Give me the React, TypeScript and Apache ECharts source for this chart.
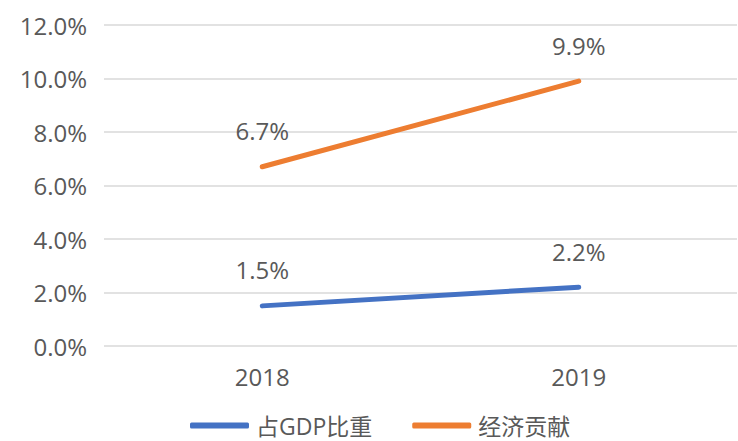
import React, { useEffect, useRef } from "react";
import * as echarts from "echarts";

const categories = ["2018", "2019"];
const gdpShare = [1.5, 2.2];
const contribution = [6.7, 9.9];
const seriesNames = ["占GDP比重", "经济贡献"];

const FONT = "'Open Sans', 'Noto Sans CJK SC', sans-serif";
const TEXT = "#595959";
const FS = 24;

export default function App() {
  const ref = useRef<HTMLDivElement>(null);
  useEffect(() => {
    const chart = echarts.init(ref.current!, null, { renderer: "svg" });
    const label = {
      show: true,
      position: "top",
      distance: 24,
      color: TEXT,
      fontSize: FS,
      fontFamily: FONT,
      formatter: (p: any) => Number(p.value).toFixed(1) + "%",
    };
    chart.setOption({
      animation: false,
      grid: { left: 104, right: 1, top: 25, bottom: 95 },
      legend: {
        top: 414,
        left: 190,
        padding: 0,
        itemWidth: 59,
        itemHeight: 6,
        itemGap: 40,
        icon: "roundRect",
        textStyle: { color: TEXT, fontSize: 23, fontFamily: FONT, padding: [0, 0, 0, 2] },
        data: seriesNames,
      },
      xAxis: {
        type: "category",
        data: categories,
        boundaryGap: true,
        axisLine: { show: false },
        axisTick: { show: false },
        axisLabel: { color: TEXT, fontSize: FS, fontFamily: FONT, margin: 18 },
      },
      yAxis: {
        type: "value",
        min: 0,
        max: 12,
        interval: 2,
        axisLine: { show: false },
        axisTick: { show: false },
        splitLine: { lineStyle: { color: "#d9d9d9", width: 1.5 } },
        axisLabel: {
          color: TEXT,
          fontSize: FS,
          fontFamily: FONT,
          margin: 17,
          formatter: (v: number) => v.toFixed(1) + "%",
        },
      },
      series: [
        {
          name: seriesNames[0],
          type: "line",
          data: gdpShare,
          symbol: "circle",
          symbolSize: 0.1,
          showSymbol: true,
          lineStyle: { color: "#4472C4", width: 5, cap: "round" },
          itemStyle: { color: "#4472C4" },
          label,
        },
        {
          name: seriesNames[1],
          type: "line",
          data: contribution,
          symbol: "circle",
          symbolSize: 0.1,
          showSymbol: true,
          lineStyle: { color: "#ED7D31", width: 5, cap: "round" },
          itemStyle: { color: "#ED7D31" },
          label,
        },
      ],
    });
    return () => chart.dispose();
  }, []);
  return <div ref={ref} style={{ width: 738, height: 441, position: "absolute", left: 0, top: 0 }} />;
}
